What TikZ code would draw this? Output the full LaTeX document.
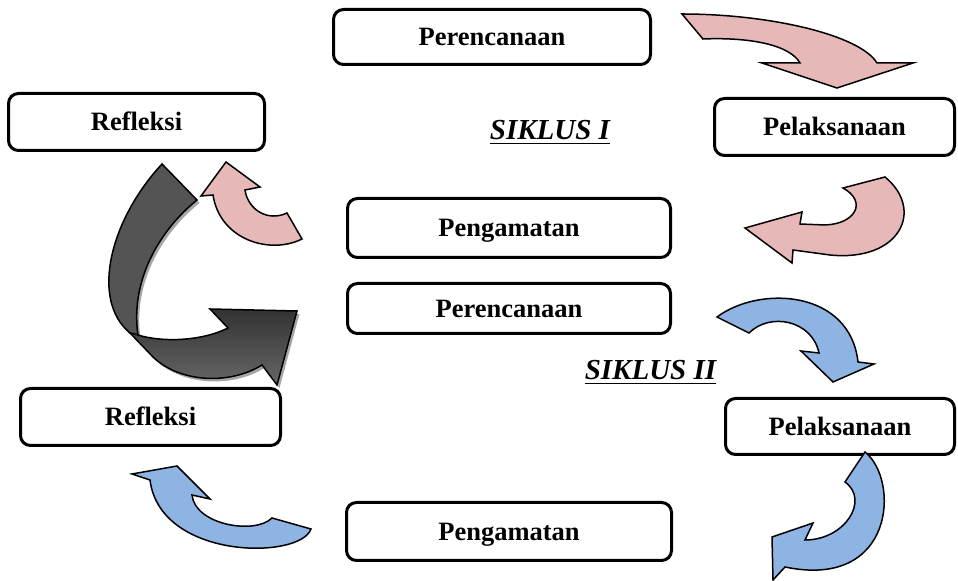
\documentclass[tikz,border=0pt]{standalone}
\usepackage{fontspec}
\setmainfont{Liberation Serif}
\definecolor{rosa}{HTML}{E6B9B8}
\definecolor{biru}{HTML}{8DB4E2}
\tikzset{
  tahap/.style={draw, line width=1.5pt, rounded corners=5pt, fill=white, inner sep=0pt,
    text height=10pt, text depth=1.2pt, font=\fontsize{13.25}{16}\selectfont\bfseries},
  siklus/.style={anchor=base, inner sep=0pt, font=\fontsize{14.5}{17}\selectfont\bfseries\itshape},
  panah/.style={draw=black, line width=0.75pt, line join=miter},
}
\begin{document}
\begin{tikzpicture}[x=0.5pt,y=-0.5pt]
\useasboundingbox (0,0) rectangle (958,581);
% siklus I
\node[tahap, minimum width=158.5pt, minimum height=27.5pt] (per1) at (492,37) {Perencanaan};
\node[tahap, minimum width=120pt, minimum height=28.5pt] (pel1) at (834.5,127) {Pelaksanaan};
\node[tahap, minimum width=161.5pt, minimum height=29.5pt] (pen1) at (509,228) {Pengamatan};
\node[tahap, minimum width=128pt, minimum height=28.5pt] (ref1) at (136.5,122) {Refleksi};
\node[siklus] (sik1) at (550,140) {\underline{SIKLUS I}};
% siklus II
\node[tahap, minimum width=161.5pt, minimum height=25pt] (per2) at (509,308.5) {Perencanaan};
\node[tahap, minimum width=114.5pt, minimum height=28pt] (pel2) at (840,426.5) {Pelaksanaan};
\node[tahap, minimum width=162.5pt, minimum height=29pt] (pen2) at (509,531.5) {Pengamatan};
\node[tahap, minimum width=130pt, minimum height=28.5pt] (ref2) at (150.5,417) {Refleksi};
\node[siklus] (sik2) at (650.5,380) {\underline{SIKLUS II}};
% pink arrows
\draw[panah, fill=rosa] (682,14) .. controls (770,14) and (860,35) .. (877,63) -- (913,63) -- (837,88)
  -- (762,63) -- (800,63) .. controls (790,45) and (750,37) .. (703,39) -- cycle;
\draw[panah, fill=rosa] (885,177) .. controls (925,210) and (900,262) .. (830,255) -- (793,250) -- (792,263)
  -- (745,228) -- (802,212) -- (800,224) -- (825,225) .. controls (855,224) and (868,202) .. (843,188) -- cycle;
\draw[panah, fill=rosa] (302,239) .. controls (270,255) and (220,240) .. (213,195) -- (201,196) -- (226,162)
  -- (260,187) -- (245,190) .. controls (248,210) and (268,222) .. (287,213) -- cycle;
% dark arrow with shadow
\fill[black!35, shift={(2.5,3)}] (162,164) .. controls (110,220) and (90,300) .. (130,333) -- (153,357)
  .. controls (180,383) and (230,385) .. (262,365) -- (277,385) -- (297,311) -- (210,309) -- (228,328)
  .. controls (200,342) and (160,342) .. (138,335) .. controls (130,280) and (160,230) .. (197,200) -- cycle;
\draw[panah, fill=black!67] (162,164) .. controls (110,220) and (90,300) .. (130,333) -- (138,335)
  .. controls (130,280) and (160,230) .. (197,200) -- cycle;
\draw[panah, top color=black!80, bottom color=black!60] (130,333) -- (153,357)
  .. controls (180,383) and (230,385) .. (262,365) -- (277,385) -- (297,311) -- (210,309) -- (228,328)
  .. controls (200,342) and (160,342) .. (138,335) -- cycle;
% blue arrows
\draw[panah, fill=biru] (717,317) .. controls (760,285) and (850,290) .. (858,362) -- (874,364) -- (833,382)
  -- (801,351) -- (819,353) .. controls (812,320) and (770,312) .. (749,333) -- cycle;
\draw[panah, fill=biru] (865,452) .. controls (900,480) and (895,590) .. (785,567) -- (773,580) -- (772,537)
  -- (813,523) -- (805,540) .. controls (845,540) and (870,500) .. (845,482) -- cycle;
\draw[panah, fill=biru] (311,529) .. controls (300,560) and (160,560) .. (150,480) -- (132,474) -- (177,466)
  -- (210,499) -- (192,495) .. controls (195,525) and (255,535) .. (272,518) -- cycle;
\end{tikzpicture}
\end{document}
